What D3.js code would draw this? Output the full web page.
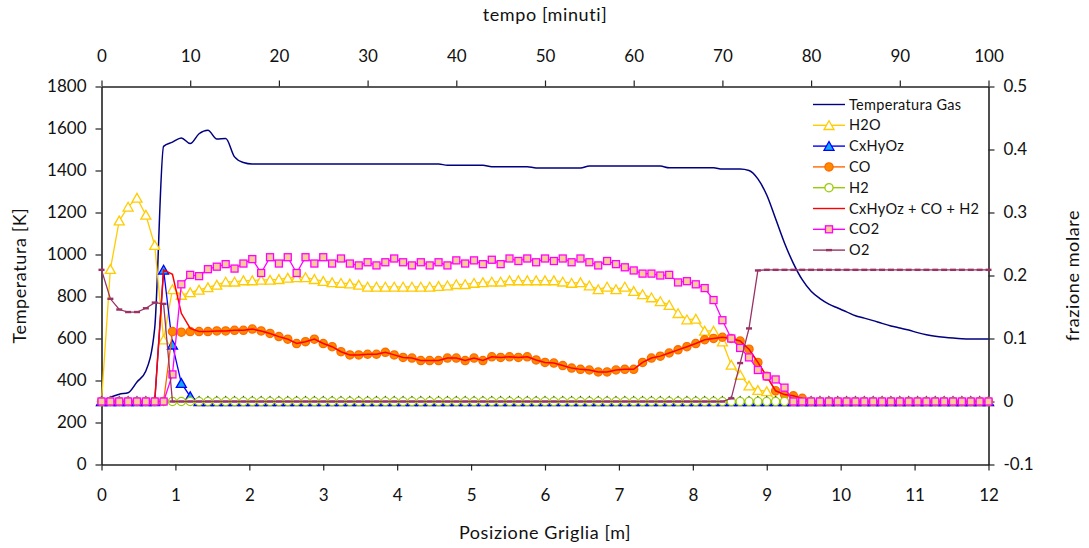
<!DOCTYPE html>
<html>
<head>
<meta charset="utf-8">
<script src="https://cdn.jsdelivr.net/npm/d3@7"></script>
<style>
body { margin: 0; background: #fff; }
text { font-family: "Century Gothic", Lato, sans-serif; fill: #111; }
</style>
</head>
<body>
<svg width="1089" height="548"></svg>
<script>
// grid: one point per minute, 0.12 m apart
var minuti = d3.range(0, 101);
var posizione = minuti.map(function(m) { return m * 0.12; });

var xTicks = [0,1,2,3,4,5,6,7,8,9,10,11,12];
var tTicks = [0,10,20,30,40,50,60,70,80,90,100];
var tempTicks = [0,200,400,600,800,1000,1200,1400,1600,1800];
var fracTicks = [-0.1,0,0.1,0.2,0.3,0.4,0.5];

// Temperatura Gas [K]
var tempGas = [
 300,320,335,342,393,445,650,1515,1535,1555,
 1528,1575,1592,1550,1552,1465,1438,1431,1431,1431,
 1431,1431,1431,1431,1431,1431,1431,1431,1431,1431,
 1431,1431,1431,1431,1431,1431,1431,1431,1431,1425,
 1425,1425,1425,1425,1418,1418,1418,1418,1418,1412,
 1412,1412,1412,1412,1412,1421,1421,1421,1421,1421,
 1421,1421,1421,1421,1413,1413,1413,1413,1413,1413,
 1407,1407,1407,1400,1360,1283,1170,1055,958,880,
 825,790,764,745,727,708,697,685,672,660,
 650,640,628,618,611,606,602,599,598,598,
 598];

// frazioni molari
var h2o = [
 0,0.210,0.287,0.309,0.323,0.296,0.248,0.098,0.178,0.169,
 0.173,0.177,0.181,0.185,0.190,0.190,0.192,0.192,0.193,0.193,
 0.194,0.196,0.197,0.197,0.194,0.191,0.189,0.188,0.187,0.185,
 0.182,0.182,0.182,0.182,0.182,0.182,0.182,0.182,0.183,0.184,
 0.186,0.186,0.188,0.189,0.190,0.190,0.192,0.192,0.192,0.192,
 0.192,0.192,0.190,0.188,0.189,0.184,0.178,0.182,0.178,0.182,
 0.175,0.170,0.165,0.159,0.153,0.140,0.130,0.131,0.112,0.112,
 0.095,0.058,0.042,0.025,0.018,0.016,0.002,0,0,0,
 0,0,0,0,0,0,0,0,0,0,
 0,0,0,0,0,0,0,0,0,0,
 0];

var cxhyoz = [
 0,0,0,0,0,0,0,0.209,0.090,0.029,
 0.008,0,0,0,0,0,0,0,0,0,
 0,0,0,0,0,0,0,0,0,0,
 0,0,0,0,0,0,0,0,0,0,
 0,0,0,0,0,0,0,0,0,0,
 0,0,0,0,0,0,0,0,0,0,
 0,0,0,0,0,0,0,0,0,0,
 0,0,0,0,0,0,0,0,0,0,
 0,0,0,0,0,0,0,0,0,0,
 0,0,0,0,0,0,0,0,0,0,
 0];

var co = [
 0,0,0,0,0,0,0,0,0.111,0.110,
 0.111,0.111,0.111,0.112,0.112,0.113,0.113,0.115,0.112,0.108,
 0.103,0.099,0.092,0.095,0.099,0.092,0.087,0.079,0.074,0.074,
 0.075,0.075,0.078,0.074,0.070,0.069,0.065,0.065,0.065,0.069,
 0.069,0.065,0.069,0.065,0.071,0.070,0.071,0.070,0.071,0.066,
 0.062,0.061,0.057,0.053,0.051,0.050,0.047,0.047,0.050,0.051,
 0.051,0.062,0.069,0.072,0.077,0.082,0.087,0.092,0.098,0.100,
 0.102,0.100,0.096,0.083,0.062,0.040,0.017,0.011,0.009,0.005,
 0,0,0,0,0,0,0,0,0,0,
 0,0,0,0,0,0,0,0,0,0,
 0];

var h2 = [
 0,0,0,0,0,0,0,0,0,0,
 0,0,0,0,0,0,0,0,0,0,
 0,0,0,0,0,0,0,0,0,0,
 0,0,0,0,0,0,0,0,0,0,
 0,0,0,0,0,0,0,0,0,0,
 0,0,0,0,0,0,0,0,0,0,
 0,0,0,0,0,0,0,0,0,0,
 0,0,0,0,0,0,0,0,0,0,
 0,0,0,0,0,0,0,0,0,0,
 0,0,0,0,0,0,0,0,0,0,
 0];

var combustibili = [
 0,0,0,0,0,0,0,0.209,0.202,0.140,
 0.116,0.111,0.111,0.112,0.112,0.113,0.113,0.115,0.112,0.108,
 0.103,0.099,0.092,0.095,0.099,0.092,0.087,0.079,0.074,0.074,
 0.075,0.075,0.078,0.074,0.070,0.069,0.065,0.065,0.065,0.069,
 0.069,0.065,0.069,0.065,0.071,0.070,0.071,0.070,0.071,0.066,
 0.062,0.061,0.057,0.053,0.051,0.050,0.047,0.047,0.050,0.051,
 0.051,0.062,0.069,0.072,0.077,0.082,0.087,0.092,0.098,0.100,
 0.102,0.100,0.096,0.083,0.062,0.040,0.017,0.011,0.009,0.005,
 0,0,0,0,0,0,0,0,0,0,
 0,0,0,0,0,0,0,0,0,0,
 0];

var co2 = [
 0,0,0,0,0,0,0,0,0.043,0.186,
 0.201,0.199,0.210,0.214,0.218,0.211,0.219,0.226,0.204,0.229,
 0.219,0.229,0.204,0.229,0.219,0.229,0.219,0.227,0.219,0.216,
 0.221,0.216,0.221,0.227,0.221,0.216,0.221,0.216,0.221,0.216,
 0.224,0.219,0.224,0.218,0.225,0.218,0.227,0.223,0.227,0.221,
 0.227,0.223,0.227,0.221,0.227,0.221,0.216,0.223,0.218,0.213,
 0.208,0.203,0.203,0.200,0.201,0.189,0.191,0.186,0.180,0.161,
 0.129,0.100,0.085,0.070,0.050,0.040,0.035,0.022,0,0,
 0,0,0,0,0,0,0,0,0,0,
 0,0,0,0,0,0,0,0,0,0,
 0];

var o2 = [
 0.209,0.163,0.146,0.142,0.142,0.148,0.157,0.155,0,0,
 0,0,0,0,0,0,0,0,0,0,
 0,0,0,0,0,0,0,0,0,0,
 0,0,0,0,0,0,0,0,0,0,
 0,0,0,0,0,0,0,0,0,0,
 0,0,0,0,0,0,0,0,0,0,
 0,0,0,0,0,0,0,0,0,0,
 0,0.005,0.061,0.116,0.208,0.209,0.209,0.209,0.209,0.209,
 0.209,0.209,0.209,0.209,0.209,0.209,0.209,0.209,0.209,0.209,
 0.209,0.209,0.209,0.209,0.209,0.209,0.209,0.209,0.209,0.209,
 0.209];

var svg = d3.select("svg"),
    margin = {top: 86.5, right: 100.5, bottom: 83.5, left: 101.5},
    width = +svg.attr("width") - margin.left - margin.right,
    height = +svg.attr("height") - margin.top - margin.bottom;

var g = svg.append("g")
    .attr("transform", "translate(" + margin.left + "," + margin.top + ")");

var x = d3.scaleLinear().domain([0, 12]).range([0, width]),
    xTop = d3.scaleLinear().domain([0, 100]).range([0, width]),
    yT = d3.scaleLinear().domain([0, 1800]).range([height, 0]),
    yF = d3.scaleLinear().domain([-0.1, 0.5]).range([height, 0]);

// axes
var fs = "17px";
g.append("g").attr("class", "axis")
    .call(d3.axisLeft(yT).tickValues(tempTicks).tickSize(6).tickSizeOuter(0).tickPadding(9)
      .tickFormat(d3.format("d")));
g.append("g").attr("class", "axis")
    .attr("transform", "translate(" + width + ",0)")
    .call(d3.axisRight(yF).tickValues(fracTicks).tickSize(6).tickSizeOuter(0).tickPadding(9)
      .tickFormat(function(d) { return Math.abs(d) < 1e-9 ? "0" : d.toFixed(1); }));
g.append("g").attr("class", "axis")
    .attr("transform", "translate(0," + height + ")")
    .call(d3.axisBottom(x).tickValues(xTicks).tickSize(6).tickSizeOuter(0).tickPadding(18));
g.append("g").attr("class", "axis")
    .call(d3.axisTop(xTop).tickValues(tTicks).tickSize(6).tickSizeOuter(0).tickPadding(19));

g.selectAll(".axis text").style("font-size", fs).attr("fill", "#111");
g.selectAll(".axis path.domain").attr("stroke", "#222").attr("stroke-width", 1.6);
g.selectAll(".axis line").attr("stroke", "#222").attr("stroke-width", 1.2);

// axis titles
var tfs = "18px";
svg.append("text").attr("x", 545).attr("y", 539).attr("text-anchor", "middle")
    .style("font-size", tfs).style("letter-spacing", "0.6px").text("Posizione Griglia [m]");
svg.append("text").attr("x", 545).attr("y", 21).attr("text-anchor", "middle")
    .style("font-size", tfs).style("letter-spacing", "0.6px").text("tempo [minuti]");
svg.append("text").attr("transform", "translate(26,275.5) rotate(-90)").attr("text-anchor", "middle")
    .style("font-size", tfs).style("letter-spacing", "0.6px").text("Temperatura [K]");
svg.append("text").attr("transform", "translate(1079,275.5) rotate(-90)").attr("text-anchor", "middle")
    .style("font-size", tfs).style("letter-spacing", "0.6px").text("frazione molare");

// series
var series = [
  {name: "Temperatura Gas", data: tempGas, y: yT, color: "#000080", marker: null, curve: d3.curveMonotoneX},
  {name: "H2O", data: h2o, y: yF, color: "#ffcc00", marker: "tri", fill: "#ffffff", stroke: "#ffcc00"},
  {name: "CxHyOz", data: cxhyoz, y: yF, color: "#0000ff", marker: "tri", fill: "#12a8ff", stroke: "#0000ff"},
  {name: "CO", data: co, y: yF, color: "#ff6600", marker: "circle", fill: "#ff8a00", stroke: "#ff6a00"},
  {name: "H2", data: h2, y: yF, color: "#99cc00", marker: "hcircle", fill: "#ffffff", stroke: "#99cc00"},
  {name: "CxHyOz + CO + H2", data: combustibili, y: yF, color: "#ff0000", marker: null},
  {name: "CO2", data: co2, y: yF, color: "#ff00ff", marker: "square", fill: "#ffcc99", stroke: "#ff00ff"},
  {name: "O2", data: o2, y: yF, color: "#993366", marker: "dash", fill: "#993366", stroke: "none"}
];

var plot = g.append("g");

function addMarker(sel, s, cx, cy) {
  if (s.marker === "tri") {
    // centred on its box, like the spreadsheet marker
    sel.append("path")
      .attr("d", "M0,-4.6L5,4.2L-5,4.2Z")
      .attr("transform", "translate(" + cx + "," + cy + ")")
      .attr("fill", s.fill).attr("stroke", s.stroke).attr("stroke-width", 1.3);
  } else if (s.marker === "circle" || s.marker === "hcircle") {
    sel.append("circle").attr("cx", cx).attr("cy", cy).attr("r", 4.1)
      .attr("fill", s.fill).attr("stroke", s.stroke).attr("stroke-width", 1.3);
  } else if (s.marker === "square") {
    sel.append("rect").attr("x", cx - 3.5).attr("y", cy - 3.5).attr("width", 7).attr("height", 7)
      .attr("fill", s.fill).attr("stroke", s.stroke).attr("stroke-width", 1.3);
  } else if (s.marker === "dash") {
    sel.append("rect").attr("x", cx - 3).attr("y", cy - 1.2).attr("width", 6).attr("height", 2.4)
      .attr("fill", s.fill);
  }
}

series.forEach(function(s) {
  var line = d3.line()
    .x(function(d, i) { return x(posizione[i]); })
    .y(function(d) { return s.y(d); })
    .curve(s.curve || d3.curveLinear);
  plot.append("path").datum(s.data)
    .attr("d", line)
    .attr("fill", "none")
    .attr("stroke", s.color)
    .attr("stroke-width", s.marker ? 1.3 : 1.5);
  if (s.marker) {
    var mg = plot.append("g");
    s.data.forEach(function(d, i) { addMarker(mg, s, x(posizione[i]), s.y(d)); });
  }
});

// legend
var legend = svg.selectAll(".legend")
    .data(series)
    .enter().append("g")
    .attr("class", "legend")
    .attr("transform", function(d, i) { return "translate(0," + (104.5 + i * 20.8) + ")"; });

legend.append("line")
    .attr("x1", 813).attr("x2", 845).attr("y1", 0).attr("y2", 0)
    .attr("stroke", function(d) { return d.color; })
    .attr("stroke-width", 1.4);

legend.each(function(d) { addMarker(d3.select(this), d, 829, 0); });

legend.append("text")
    .attr("x", 849).attr("y", 0).attr("dy", "0.35em")
    .style("font-size", "14.5px").style("letter-spacing", "0.3px")
    .text(function(d) { return d.name; });
</script>
</body>
</html>
